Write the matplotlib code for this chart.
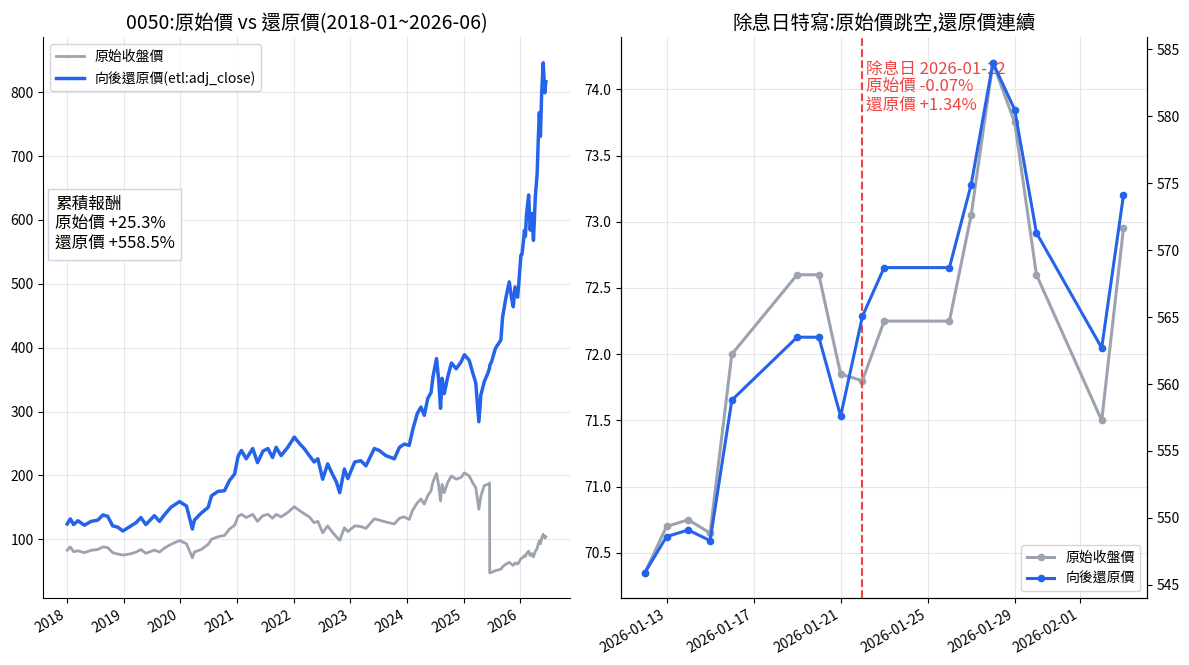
import matplotlib
matplotlib.use('Agg')
import matplotlib.pyplot as plt
import matplotlib.dates as mdates
import matplotlib.transforms as mtrans
import pandas as pd

plt.rcParams['font.family'] = ['Noto Sans CJK TC', 'DejaVu Sans']
plt.rcParams['axes.unicode_minus'] = False

GRAY = '#9CA3AF'
BLUE = '#2563EB'
RED = '#EF4444'

''' 左圖: 0050 原始收盤價 / 向後還原價 (讀圖估計) '''
long_dates = [
    '2018-01-02', '2018-01-22', '2018-02-12', '2018-03-12', '2018-04-23', '2018-06-05',
    '2018-07-18', '2018-08-20', '2018-09-20', '2018-10-22', '2018-11-23', '2018-12-27',
    '2019-02-11', '2019-03-22', '2019-04-22', '2019-05-24', '2019-07-18', '2019-08-20',
    '2019-09-20', '2019-11-01', '2019-12-27', '2020-02-10', '2020-03-19', '2020-04-01',
    '2020-05-15', '2020-06-29', '2020-07-20', '2020-08-31', '2020-10-12', '2020-11-13',
    '2020-12-16', '2021-01-08', '2021-01-29', '2021-03-01', '2021-04-12', '2021-05-13',
    '2021-06-17', '2021-07-19', '2021-08-18', '2021-09-10', '2021-10-12', '2021-11-24',
    '2022-01-05', '2022-02-07', '2022-03-10', '2022-04-12', '2022-05-13', '2022-06-06',
    '2022-07-07', '2022-08-08', '2022-09-08', '2022-10-03', '2022-10-25', '2022-11-24',
    '2022-12-16', '2023-01-30', '2023-03-10', '2023-04-12', '2023-06-05', '2023-07-07',
    '2023-08-18', '2023-10-12', '2023-11-14', '2023-12-15', '2024-01-16', '2024-02-06',
    '2024-03-08', '2024-04-01', '2024-04-22', '2024-05-14', '2024-06-05', '2024-06-17',
    '2024-07-10', '2024-07-24', '2024-08-05', '2024-08-15', '2024-08-29', '2024-09-20',
    '2024-10-14', '2024-11-14', '2024-12-16', '2025-01-06', '2025-02-06', '2025-02-27',
    '2025-03-20', '2025-04-09', '2025-04-22', '2025-05-14', '2025-06-06', '2025-06-17',
    '2025-06-18', '2025-06-30', '2025-07-25', '2025-08-29', '2025-09-09', '2025-10-01',
    '2025-10-22', '2025-11-05', '2025-11-17', '2025-11-28', '2025-12-15', '2025-12-24',
    '2026-01-05', '2026-01-12', '2026-01-20', '2026-01-28', '2026-02-03', '2026-02-10',
    '2026-02-24', '2026-03-06', '2026-03-17', '2026-03-27', '2026-04-08', '2026-04-20',
    '2026-04-27', '2026-05-04', '2026-05-11', '2026-05-19', '2026-05-29', '2026-06-08',
    '2026-06-15',
]
raw_close = [
    82.9, 88.0, 80.5, 82.0, 79.0, 82.7,
    84.0, 88.0, 87.0, 79.0, 77.0, 75.3,
    77.0, 80.0, 84.0, 78.0, 83.0, 80.0,
    86.0, 92.0, 98.0, 93.0, 71.0, 80.0,
    84.0, 92.0, 100.0, 104.0, 106.0, 116.0,
    122.0, 136.0, 139.0, 134.0, 139.0, 128.0,
    137.0, 139.0, 133.0, 139.0, 135.0, 142.0,
    151.0, 145.0, 140.0, 135.0, 126.0, 128.0,
    110.0, 121.0, 111.0, 104.0, 98.4, 118.0,
    112.0, 121.0, 120.0, 117.0, 132.0, 130.0,
    127.0, 124.0, 133.0, 135.0, 131.0, 145.0,
    157.0, 163.0, 155.0, 168.0, 176.0, 190.0,
    203.0, 184.0, 160.0, 186.0, 173.0, 189.0,
    199.0, 194.0, 197.0, 204.0, 199.0, 189.0,
    181.0, 147.0, 168.0, 184.0, 186.0, 188.0,
    47.5, 48.0, 51.0, 53.0, 57.0, 61.0,
    64.0, 61.0, 59.0, 63.0, 61.0, 64.5,
    69.5, 70.35, 72.6, 74.2, 72.95, 77.5,
    81.4, 74.4, 77.7, 72.4, 81.0, 85.7,
    92.5, 97.8, 93.0, 101.8, 107.8, 101.8,
    103.9,
]
adj_close = [
    124.0, 132.0, 123.0, 129.0, 122.0, 128.0,
    130.0, 138.0, 136.0, 121.0, 119.0, 113.0,
    120.0, 126.0, 134.0, 123.0, 137.0, 128.0,
    138.0, 150.0, 159.0, 152.0, 116.0, 130.0,
    141.0, 150.0, 168.0, 175.0, 176.0, 192.0,
    202.0, 230.0, 239.0, 226.0, 242.0, 220.0,
    238.0, 242.0, 228.0, 244.0, 231.0, 244.0,
    260.0, 250.0, 242.0, 231.0, 221.0, 226.0,
    194.0, 218.0, 202.0, 190.0, 173.0, 210.0,
    195.0, 221.0, 223.0, 215.0, 242.0, 239.0,
    231.0, 226.0, 244.0, 249.0, 247.0, 270.0,
    297.0, 307.0, 294.0, 320.0, 330.0, 354.0,
    383.0, 349.0, 305.0, 352.0, 328.0, 354.0,
    376.0, 367.0, 378.0, 389.0, 380.0, 362.0,
    345.0, 284.0, 326.0, 347.0, 360.0, 368.0,
    372.0, 378.0, 399.0, 412.0, 448.0, 479.0,
    503.0, 479.0, 464.0, 495.0, 479.0, 505.0,
    545.0, 545.9, 563.5, 584.0, 574.1, 608.0,
    639.0, 584.0, 610.0, 568.0, 636.0, 673.0,
    726.0, 768.0, 731.0, 799.0, 846.0, 799.0,
    816.5,
]

''' 右圖: 除息日前後的每日收盤 '''
zoom_dates = ['2026-01-12', '2026-01-13', '2026-01-14', '2026-01-15', '2026-01-16',
              '2026-01-19', '2026-01-20', '2026-01-21', '2026-01-22', '2026-01-23',
              '2026-01-26', '2026-01-27', '2026-01-28', '2026-01-29', '2026-01-30',
              '2026-02-02', '2026-02-03']
zoom_raw = [70.35, 70.70, 70.75, 70.65, 72.00, 72.60, 72.60, 71.85, 71.80, 72.25,
            72.25, 73.05, 74.20, 73.75, 72.60, 71.50, 72.95]
zoom_adj = [545.9, 548.6, 549.1, 548.3, 558.8, 563.5, 563.5, 557.6, 565.05, 568.7,
            568.7, 574.9, 584.0, 580.5, 571.3, 562.7, 574.1]
ex_date = '2026-01-22'

ld = pd.to_datetime(long_dates)
zd = pd.to_datetime(zoom_dates)
ex = pd.Timestamp(ex_date)

fig, (ax1, ax) = plt.subplots(1, 2, figsize=(11.89, 6.65), dpi=100)

# ---- 左圖 ----
ax1.plot(ld, raw_close, color=GRAY, lw=2.0, label='原始收盤價')
ax1.plot(ld, adj_close, color=BLUE, lw=2.5, label='向後還原價(etl:adj_close)')
ax1.set_title('0050:原始價 vs 還原價(2018-01~2026-06)', fontsize=14)
ax1.xaxis.set_major_locator(mdates.YearLocator())
ax1.xaxis.set_major_formatter(mdates.DateFormatter('%Y'))
ax1.grid(True, color='#e5e7eb', lw=0.8)
ax1.spines['top'].set_visible(False)
ax1.spines['right'].set_visible(False)
ax1.legend(loc='upper left', fontsize=10)

raw_ret = (raw_close[-1] / raw_close[0] - 1) * 100
adj_ret = (adj_close[-1] / adj_close[0] - 1) * 100
ax1.text(0.022, 0.718, f'累積報酬\n原始價 {raw_ret:+.1f}%\n還原價 {adj_ret:+.1f}%',
         transform=ax1.transAxes, fontsize=12, va='top', ha='left', linespacing=1.25,
         bbox=dict(boxstyle='square,pad=0.4', facecolor='white', edgecolor='#cbd5e1'))

# ---- 右圖 ----
ax2 = ax.twinx()
l1, = ax.plot(zd, zoom_raw, color=GRAY, lw=2.2, marker='o', ms=4.5, label='原始收盤價')
l2, = ax2.plot(zd, zoom_adj, color=BLUE, lw=2.2, marker='o', ms=4.5, label='向後還原價')
ax.axvline(ex, color=RED, ls='--', lw=1.5)

i = zoom_dates.index(ex_date)
raw_chg = (zoom_raw[i] / zoom_raw[i - 1] - 1) * 100
adj_chg = (zoom_adj[i] / zoom_adj[i - 1] - 1) * 100
trans = mtrans.blended_transform_factory(ax.transData, ax.transAxes)
ax.text(ex + pd.Timedelta(hours=4), 0.958,
        f'除息日 {ex_date}\n原始價 {raw_chg:+.2f}%\n還原價 {adj_chg:+.2f}%',
        transform=trans, color=RED, fontsize=12, va='top', ha='left', linespacing=1.1)

ax.set_title('除息日特寫:原始價跳空,還原價連續', fontsize=14)
ax.xaxis.set_major_locator(mdates.DayLocator(bymonthday=range(1, 32, 4)))
ax.xaxis.set_major_formatter(mdates.DateFormatter('%Y-%m-%d'))
ax.grid(True, color='#e5e7eb', lw=0.8)
ax.spines['top'].set_visible(False)
ax2.spines['top'].set_visible(False)
ax2.legend([l1, l2], ['原始收盤價', '向後還原價'], loc='lower right', fontsize=10)

for a in (ax1, ax, ax2):
    a.tick_params(labelsize=10)

fig.autofmt_xdate(rotation=30)
fig.subplots_adjust(left=0.0364, right=0.965, bottom=0.1003, top=0.9439, wspace=0.097)
fig.savefig('out.png', dpi=100)
